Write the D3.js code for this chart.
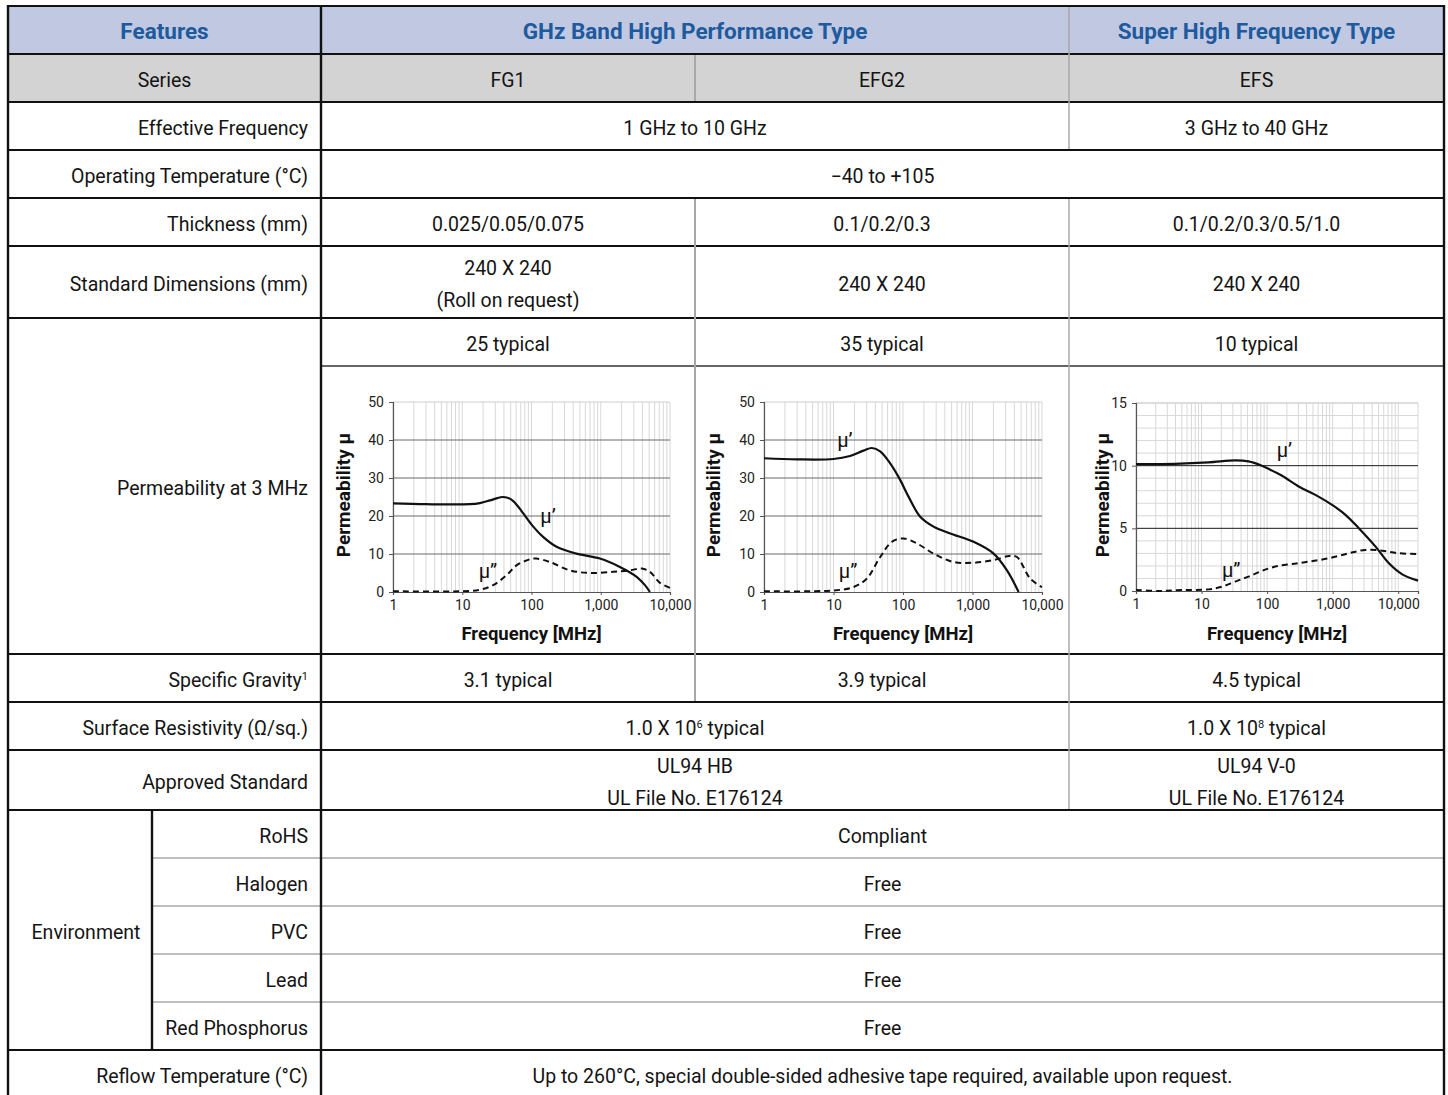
<!DOCTYPE html>
<html><head><meta charset="utf-8">
<script src="https://cdn.jsdelivr.net/npm/d3@7"></script>
<style>html,body{margin:0;padding:0;background:#fff;} svg{display:block;}</style>
</head><body>
<script>
// ---------------- DATA ----------------
const headerLabels = ["Features", "GHz Band High Performance Type", "Super High Frequency Type"];
const seriesNames = ["FG1", "EFG2", "EFS"];
const rowLabels = ["Series", "Effective Frequency", "Operating Temperature (°C)", "Thickness (mm)",
  "Standard Dimensions (mm)", "Permeability at 3 MHz", "Specific Gravity", "Surface Resistivity (Ω/sq.)",
  "Approved Standard", "Environment", "Reflow Temperature (°C)"];
const effFreq = ["1 GHz to 10 GHz", "3 GHz to 40 GHz"];
const opTemp = "\u221240 to +105";
const thickness = ["0.025/0.05/0.075", "0.1/0.2/0.3", "0.1/0.2/0.3/0.5/1.0"];
const stdDims = [["240 X 240", "(Roll on request)"], ["240 X 240"], ["240 X 240"]];
const permTypical = ["25 typical", "35 typical", "10 typical"];
const specGravity = ["3.1 typical", "3.9 typical", "4.5 typical"];
const surfResExp = ["6", "8"];
const approved = [["UL94 HB", "UL File No. E176124"], ["UL94 V-0", "UL File No. E176124"]];
const envLabels = ["RoHS", "Halogen", "PVC", "Lead", "Red Phosphorus"];
const envValues = ["Compliant", "Free", "Free", "Free", "Free"];
const reflow = "Up to 260°C, special double-sided adhesive tape required, available upon request.";

const xTickLabels = ["1", "10", "100", "1,000", "10,000"];
const yTicks50 = [0, 10, 20, 30, 40, 50];
const yTicks15 = [0, 5, 10, 15];

// FG1 [frequency MHz, permeability]
const fg1MuReal = [[1,23.3],[3,23.1],[12.8,23.1],[18,23.4],[25,24.1],[32,24.7],[38,25.0],[45,24.8],[54,24.0],[64,22.5],[76,20.7],[106,17.2],[147,14.5],[230,11.9],[447,10.1],[972,8.8],[1890,6.6],[3300,4.0],[4350,1.8],[5130,0]];
const fg1MuImag = [[1,0.2],[10.3,0.2],[17.9,0.6],[27.9,1.8],[43.5,4.4],[60.7,7.0],[94.6,8.6],[118,8.8],[184,7.9],[358,5.7],[697,5.0],[1514,5.3],[2640,5.7],[3900,6.2],[5130,5.3],[7160,2.4],[10000,1.1]];
// EFG2
const efg2MuReal = [[1,35.2],[3,34.9],[10,35.0],[17.3,35.8],[27,37.2],[35.6,37.9],[46.9,37.0],[65,33.9],[91,29.5],[120,25.1],[177,19.8],[275,17.2],[478,15.4],[1036,13.2],[2013,10.1],[3134,5.7],[4612,0]];
const efg2MuImag = [[1,0.2],[10,0.4],[19.4,1.3],[30,3.5],[47,9.2],[69,13.2],[102,14.1],[158,12.8],[275,10.1],[534,7.9],[1036,7.7],[2013,8.4],[3400,9.5],[4365,9.2],[6790,3.5],[10000,1.3]];
// EFS
const efsMuReal = [[1,10.13],[3.95,10.15],[12.8,10.26],[32.6,10.42],[52,10.34],[83,10.0],[105,9.75],[169,9.19],[303,8.34],[545,7.67],[980,6.87],[1567,6.08],[2504,5.01],[4508,3.54],[7200,2.21],[11520,1.33],[20000,0.83]];
const efsMuImag = [[1,0.08],[2.2,0.0],[5,0.08],[12.8,0.13],[20.4,0.35],[32.6,0.75],[52,1.15],[83,1.6],[133,1.95],[240,2.16],[431,2.34],[871,2.61],[1762,3.01],[3165,3.28],[5690,3.22],[10230,3.01],[20000,2.96]];

// ---------------- LAYOUT ----------------
const W = 1448, H = 1095;
const FONT = "Roboto, 'Noto Sans', sans-serif";
const X0 = 8, XE = 152, X1 = 321, X2 = 695, X3 = 1069, X4 = 1444;
const rowY = [6, 54, 102, 150, 198, 246, 318, 366, 654, 702, 750, 810, 858, 906, 954, 1002, 1050, 1098];
const labelX = 308;
const FS = 19.5;
const TXT = "#141414";
const DY = "0.46em";

const svg = d3.select("body").append("svg").attr("width", W).attr("height", H)
  .style("font-family", FONT);

// fills
svg.append("rect").attr("x", X0).attr("y", rowY[0]).attr("width", X4 - X0).attr("height", rowY[1] - rowY[0]).attr("fill", "#c1c8e1");
svg.append("rect").attr("x", X0).attr("y", rowY[1]).attr("width", X4 - X0).attr("height", rowY[2] - rowY[1]).attr("fill", "#d3d3d3");

function txt(x, y, s, anchor = "middle", opts = {}) {
  return svg.append("text").attr("x", x).attr("y", y).attr("dy", opts.dy || DY)
    .attr("text-anchor", anchor).attr("font-size", opts.size || FS)
    .attr("font-weight", opts.weight || 400).attr("fill", opts.fill || TXT).text(s);
}
function sup(t, s) {
  t.append("tspan").attr("font-size", 11).attr("dy", -7).text(s);
}
const mid = (a, b) => (a + b) / 2;
const cy = i => mid(rowY[i], rowY[i + 1]);
const colC = [mid(X1, X2), mid(X2, X3), mid(X3, X4)];

// header
const HB = "#1d5a9e";
txt(mid(X0, X1), cy(0), headerLabels[0], "middle", {size: 22.5, weight: 700, fill: HB, dy: "0.4em"});
txt(mid(X1, X3), cy(0), headerLabels[1], "middle", {size: 22.5, weight: 700, fill: HB, dy: "0.4em"});
txt(mid(X3, X4), cy(0), headerLabels[2], "middle", {size: 22.5, weight: 700, fill: HB, dy: "0.4em"});

// Series row
txt(mid(X0, X1), cy(1), rowLabels[0]);
seriesNames.forEach((s, i) => txt(colC[i], cy(1), s));
// Effective frequency
txt(labelX, cy(2), rowLabels[1], "end");
txt(X2, cy(2), effFreq[0]);
txt(colC[2], cy(2), effFreq[1]);
// Operating temperature
txt(labelX, cy(3), rowLabels[2], "end");
txt(mid(X1, X4), cy(3), opTemp);
// Thickness
txt(labelX, cy(4), rowLabels[3], "end");
thickness.forEach((s, i) => txt(colC[i], cy(4), s));
// Standard dimensions
txt(labelX, cy(5), rowLabels[4], "end");
stdDims.forEach((arr, i) => {
  if (arr.length === 1) txt(colC[i], cy(5), arr[0]);
  else arr.forEach((s, j) => txt(colC[i], cy(5) + (j - 0.5) * 32, s));
});
// Permeability
txt(labelX, mid(rowY[6], rowY[8]), rowLabels[5], "end");
permTypical.forEach((s, i) => txt(colC[i], cy(6), s));
// Specific gravity
{
  const t = txt(labelX, cy(8), rowLabels[6], "end");
  sup(t, "1");
}
specGravity.forEach((s, i) => txt(colC[i], cy(8), s));
// Surface resistivity
txt(labelX, cy(9), rowLabels[7], "end");
[X2, colC[2]].forEach((x, i) => {
  const t = txt(x, cy(9), "1.0 X 10");
  sup(t, surfResExp[i]);
  t.append("tspan").attr("dy", 7).text(" typical");
});
// Approved standard
txt(labelX, cy(10), rowLabels[8], "end");
[X2, colC[2]].forEach((x, i) => approved[i].forEach((s, j) => txt(x, cy(10) + (j - 0.5) * 32, s)));
// Environment
txt(86, mid(rowY[11], rowY[16]), rowLabels[9]);
envLabels.forEach((s, i) => {
  txt(labelX, cy(11 + i), s, "end");
  txt(mid(X1, X4), cy(11 + i), envValues[i]);
});
// Reflow
txt(labelX, 1074, rowLabels[10], "end");
txt(mid(X1, X4), 1074, reflow);

// ---------------- GRID LINES ----------------
const lines = svg.append("g");
function seg(x1, y1, x2, y2, color, w) {
  lines.append("line").attr("x1", x1).attr("y1", y1).attr("x2", x2).attr("y2", y2)
    .attr("stroke", color).attr("stroke-width", w);
}
const BLK = "#111", GRY = "#a8a8a8";
[6, 54, 102, 150, 198, 246, 318, 654, 702, 750, 810, 1050].forEach(y => seg(X0 - 1, y, X4 + 1, y, BLK, 2.2));
seg(X1, 366, X4, 366, "#333", 1.6);
[858, 906, 954, 1002].forEach(y => seg(XE, y, X4, y, GRY, 1.5));
[X0, X1, X4].forEach(x => seg(x, 5, x, H, BLK, 2.4));
seg(XE, 810, XE, 1050, BLK, 2.4);
seg(X2, 55, X2, 101, GRY, 2);
seg(X2, 199, X2, 701, GRY, 2);
seg(X3, 7, X3, 149, GRY, 1.5);
seg(X3, 199, X3, 809, GRY, 1.5);

// ---------------- CHARTS ----------------
function chart(cfg) {
  const g = svg.append("g");
  const x = d3.scaleLog().domain([1, cfg.xMax]).range([cfg.l, cfg.r]);
  const y = d3.scaleLinear().domain([0, cfg.yMax]).range([cfg.b, cfg.t]);
  // minor vertical grid
  const vgrid = [];
  for (let d = 1; d <= cfg.xMax; d *= 10) for (let k = 1; k <= 9; k++) if (d * k <= cfg.xMax) vgrid.push(d * k);
  if (!vgrid.includes(cfg.xMax)) vgrid.push(cfg.xMax);
  g.selectAll(".vg").data(vgrid).join("line")
    .attr("x1", d => x(d)).attr("x2", d => x(d)).attr("y1", cfg.t).attr("y2", cfg.b)
    .attr("stroke", "#d8d8d8").attr("stroke-width", 1);
  // horizontal minor grid
  if (cfg.minorY) {
    g.selectAll(".hm").data(d3.range(1, cfg.yMax + 1)).join("line")
      .attr("x1", cfg.l).attr("x2", cfg.r).attr("y1", d => y(d)).attr("y2", d => y(d))
      .attr("stroke", "#d8d8d8").attr("stroke-width", 1);
  }
  // top frame
  g.append("line").attr("x1", cfg.l).attr("x2", cfg.r).attr("y1", cfg.t).attr("y2", cfg.t).attr("stroke", "#cfcfcf");
  // major horizontal grid
  g.selectAll(".hg").data(cfg.yTicks.filter(v => v > 0 && v < cfg.yMax)).join("line")
    .attr("x1", cfg.l).attr("x2", cfg.r).attr("y1", d => y(d)).attr("y2", d => y(d))
    .attr("stroke", cfg.majorColor).attr("stroke-width", 1);
  // axes
  const ya = g.append("g").attr("transform", `translate(${cfg.l},0)`)
    .call(d3.axisLeft(y).tickValues(cfg.yTicks).tickSize(4).tickPadding(5).tickFormat(d3.format("d")));
  const xa = g.append("g").attr("transform", `translate(0,${cfg.b})`)
    .call(d3.axisBottom(x).tickValues([1, 10, 100, 1000, 10000]).tickSize(3).tickPadding(5)
      .tickFormat((d, i) => xTickLabels[i]));
  [ya, xa].forEach(a => {
    a.select(".domain").attr("stroke", "#555").attr("stroke-width", 1.2);
    a.selectAll(".tick line").attr("stroke", "#555");
    a.selectAll("text").attr("font-size", 14).attr("fill", "#222").attr("font-family", FONT);
  });
  // curves
  const line = d3.line().x(d => x(d[0])).y(d => y(d[1])).curve(d3.curveCatmullRom.alpha(0.5));
  g.append("path").datum(cfg.imag).attr("d", line).attr("fill", "none")
    .attr("stroke", "#111").attr("stroke-width", 2).attr("stroke-dasharray", "6,4");
  g.append("path").datum(cfg.real).attr("d", line).attr("fill", "none")
    .attr("stroke", "#111").attr("stroke-width", 2.2);
  // labels
  g.append("text").attr("x", x(cfg.lblReal[0])).attr("y", y(cfg.lblReal[1])).attr("dy", "0.36em")
    .attr("text-anchor", "middle").attr("font-size", 20).attr("fill", "#111").text("μ’");
  g.append("text").attr("x", x(cfg.lblImag[0])).attr("y", y(cfg.lblImag[1])).attr("dy", "0.36em")
    .attr("text-anchor", "middle").attr("font-size", 20).attr("fill", "#111").text("μ”");
  // axis titles
  g.append("text").attr("transform", `translate(${cfg.l - cfg.ytOff},495) rotate(-90)`)
    .attr("dy", "0.36em").attr("text-anchor", "middle").attr("font-size", 19).attr("font-weight", 700)
    .attr("fill", "#111").text("Permeability μ");
  g.append("text").attr("x", mid(cfg.l, cfg.r)).attr("y", 633).attr("dy", "0.38em")
    .attr("text-anchor", "middle").attr("font-size", 18.5).attr("font-weight", 700)
    .attr("fill", "#111").text("Frequency [MHz]");
}

chart({l: 393, r: 670, t: 402, b: 592, xMax: 10000, yMax: 50, yTicks: yTicks50, majorColor: "#6a6a6a",
  real: fg1MuReal, imag: fg1MuImag, lblReal: [173, 20], lblImag: [23.5, 5.5], ytOff: 50});
chart({l: 764, r: 1042, t: 402, b: 592, xMax: 10000, yMax: 50, yTicks: yTicks50, majorColor: "#6a6a6a",
  real: efg2MuReal, imag: efg2MuImag, lblReal: [14.6, 40], lblImag: [16.2, 5.5], ytOff: 51});
chart({l: 1136, r: 1418, t: 403, b: 591, xMax: 20000, yMax: 15, yTicks: yTicks15, majorColor: "#222",
  minorY: true, real: efsMuReal, imag: efsMuImag, lblReal: [183, 11.25], lblImag: [28.4, 1.7], ytOff: 34});
</script>
</body></html>
